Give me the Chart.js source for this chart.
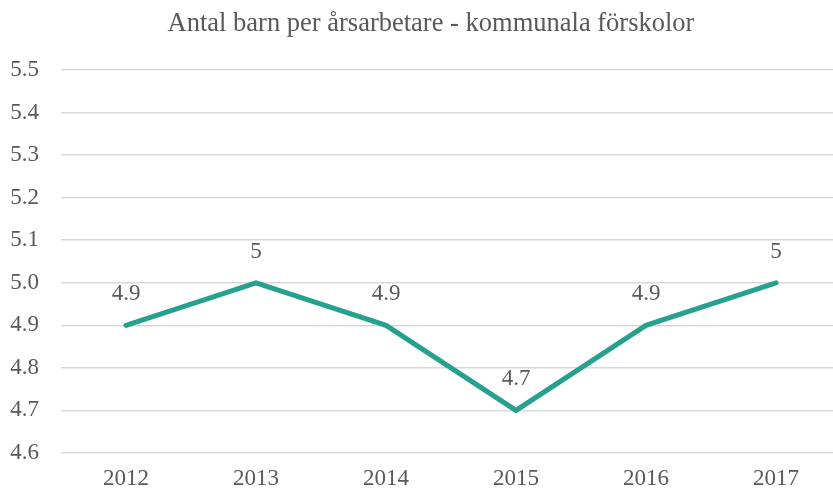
<!DOCTYPE html>
<html>
<head>
<meta charset="utf-8">
<script src="https://cdn.jsdelivr.net/npm/chart.js@4"></script>
<style>
  html, body { margin: 0; padding: 0; background: #fff; overflow: hidden; }
  #wrap { width: 833px; height: 493px; overflow: hidden; }
  #box { width: 862px; height: 493px; }
</style>
</head>
<body>
<div id="wrap"><div id="box"><canvas id="chart"></canvas></div></div>
<script>
// Datos
const years = ['2012', '2013', '2014', '2015', '2016', '2017'];
const values = [4.9, 5.0, 4.9, 4.7, 4.9, 5.0];
const pointLabels = ['4.9', '5', '4.9', '4.7', '4.9', '5'];
const title = 'Antal barn per årsarbetare - kommunala förskolor';

const serif = '"Liberation Serif", "Times New Roman", serif';
const textColor = '#595959';

// título centrado en la imagen + etiquetas encima de cada punto
const textLayer = {
  id: 'textLayer',
  afterDatasetsDraw(chart) {
    const ctx = chart.ctx;
    const meta = chart.getDatasetMeta(0);
    ctx.save();
    ctx.fillStyle = textColor;
    ctx.textAlign = 'center';
    ctx.textBaseline = 'middle';
    ctx.font = '26.5px ' + serif;
    ctx.fillText(title, 431, 24);
    ctx.font = '23px ' + serif;
    meta.data.forEach((pt, i) => {
      ctx.fillText(pointLabels[i], pt.x, pt.y - 31);
    });
    ctx.restore();
  }
};

new Chart(document.getElementById('chart'), {
  type: 'line',
  data: {
    labels: years,
    datasets: [{
      data: values,
      borderColor: '#26a08f',
      borderWidth: 5,
      pointRadius: 0,
      tension: 0,
      borderCapStyle: 'round',
      borderJoinStyle: 'miter'
    }]
  },
  options: {
    responsive: true,
    maintainAspectRatio: false,
    animation: false,
    layout: { padding: { left: 0, right: 21, top: 70, bottom: 0 } },
    plugins: {
      legend: { display: false },
      tooltip: { enabled: false },
      title: { display: false }
    },
    scales: {
      x: {
        offset: true,
        afterFit(scale) { scale.height = 40; },
        grid: { display: false, drawTicks: false },
        border: { display: false },
        ticks: {
          color: textColor,
          font: { family: serif, size: 23 },
          padding: 12
        }
      },
      y: {
        min: 4.6,
        max: 5.5,
        afterFit(scale) { scale.width = 61; },
        grid: { color: '#d9d9d9', lineWidth: 1.5, drawTicks: false },
        border: { display: false },
        ticks: {
          stepSize: 0.1,
          color: textColor,
          font: { family: serif, size: 23 },
          padding: 22,
          callback: v => Number(v).toFixed(1)
        }
      }
    }
  },
  plugins: [textLayer]
});
</script>
</body>
</html>
